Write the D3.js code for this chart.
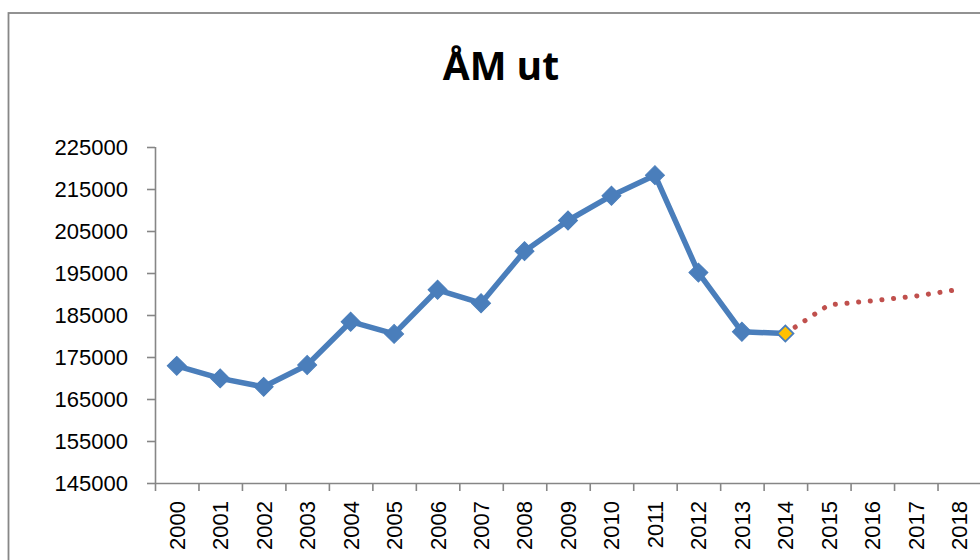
<!DOCTYPE html>
<html>
<head>
<meta charset="utf-8">
<script src="https://cdn.jsdelivr.net/npm/d3@7"></script>
<style>
  html, body { margin: 0; padding: 0; background: #fff; }
  svg { display: block; }
</style>
</head>
<body>
<svg id="chart" width="980" height="560"></svg>
<script>
// ---- data ----
const title = "ÅM ut";
const years = ["2000","2001","2002","2003","2004","2005","2006","2007","2008","2009",
               "2010","2011","2012","2013","2014","2015","2016","2017","2018"];
const actualYears = years.slice(0, 15);
const actualValues = [172900, 169900, 167900, 173100, 183400, 180500, 191000, 187800,
                      200200, 207500, 213400, 218300, 195100, 181000, 180600];
const forecastYears = ["2014","2015","2016","2017","2018"];
const forecastValues = [180600, 187400, 188400, 189500, 191100];
const yTicks = [145000, 155000, 165000, 175000, 185000, 195000, 205000, 215000, 225000];

(function () {
// ---- layout ----
const svg = d3.select("#chart");
const mLeft = 155, mRight = 981, mTop = 147, mBottom = 483;
const axisColor = "#868686";
const font = "'Liberation Sans', Arial, sans-serif";

// frame
svg.append("rect").attr("x", 8.5).attr("y", 13).attr("width", 1000).attr("height", 600)
  .attr("fill", "#fff").attr("stroke", "#878787").attr("stroke-width", 1.8);

// title
svg.append("text").attr("x", 501).attr("y", 80).attr("text-anchor", "middle")
  .attr("font-family", "'Open Sans', 'Liberation Sans', sans-serif")
  .attr("font-weight", "bold").attr("font-size", 39).attr("fill", "#000")
  .text(title);

const x = d3.scaleBand().domain(years).range([mLeft, mRight]).padding(0);
const y = d3.scaleLinear().domain([145000, 225000]).range([mBottom, mTop]);
const xIdx = d3.scaleLinear().domain([0, years.length]).range([mLeft, mRight]);

// y axis
const gy = svg.append("g").attr("transform", `translate(${mLeft},0)`)
  .call(d3.axisLeft(y).tickValues(yTicks).tickFormat(d3.format("d"))
        .tickSize(8).tickSizeOuter(0).tickPadding(19));
gy.select(".domain").attr("stroke", axisColor).attr("stroke-width", 1.6)
  .attr("d", `M0.5,${mTop}V${mBottom + 8}`);
gy.selectAll(".tick line").attr("stroke", axisColor).attr("stroke-width", 1.6);
gy.selectAll(".tick text").attr("font-family", font).attr("font-size", 22)
  .attr("fill", "#000").attr("dy", "0.36em");

// x axis: boundary ticks
const gx = svg.append("g").attr("transform", `translate(0,${mBottom})`)
  .call(d3.axisBottom(xIdx).tickValues(d3.range(1, years.length + 1))
        .tickSize(8).tickSizeOuter(0).tickFormat(""));
gx.select(".domain").attr("stroke", axisColor).attr("stroke-width", 1.6);
gx.selectAll(".tick line").attr("stroke", axisColor).attr("stroke-width", 1.6);

// x labels via band axis (no tick marks)
const gxl = svg.append("g").attr("transform", `translate(0,${mBottom})`)
  .call(d3.axisBottom(x).tickSize(0).tickSizeOuter(0).tickPadding(0));
gxl.select(".domain").remove();
gxl.selectAll(".tick text")
  .attr("font-family", font).attr("font-size", 22).attr("fill", "#000")
  .attr("text-anchor", "end")
  .attr("transform", "translate(0,18) rotate(-90)")
  .attr("x", 0).attr("y", 0).attr("dy", "0.36em");

// lines
const cx = d => x(d) + x.bandwidth() / 2;
const line = d3.line().x(d => cx(d[0])).y(d => y(d[1]));

const actual = actualYears.map((yr, i) => [yr, actualValues[i]]);
const forecast = forecastYears.map((yr, i) => [yr, forecastValues[i]]);

svg.append("path").datum(actual).attr("d", line)
  .attr("fill", "none").attr("stroke", "#4A7EBB").attr("stroke-width", 5.5)
  .attr("stroke-linejoin", "round");

svg.append("path").datum(forecast).attr("d", line)
  .attr("fill", "none").attr("stroke", "#C0504D").attr("stroke-width", 5)
  .attr("stroke-linecap", "round").attr("stroke-dasharray", "0.1 11.6");

// markers
const diamond = d3.symbol().type(d3.symbolSquare).size(180);
svg.append("g").selectAll("path").data(actual.slice(0, actual.length - 1)).join("path")
  .attr("d", diamond)
  .attr("transform", d => `translate(${cx(d[0])},${y(d[1])}) rotate(45)`)
  .attr("fill", "#4A7EBB").attr("stroke", "#4A7EBB").attr("stroke-width", 1);

const last = actual[actual.length - 1];
svg.append("path").attr("d", d3.symbol().type(d3.symbolSquare).size(130)())
  .attr("transform", `translate(${cx(last[0])},${y(last[1])}) rotate(45)`)
  .attr("fill", "#FFC000").attr("stroke", "#4A7EBB").attr("stroke-width", 1.8);
})();
</script>
</body>
</html>
